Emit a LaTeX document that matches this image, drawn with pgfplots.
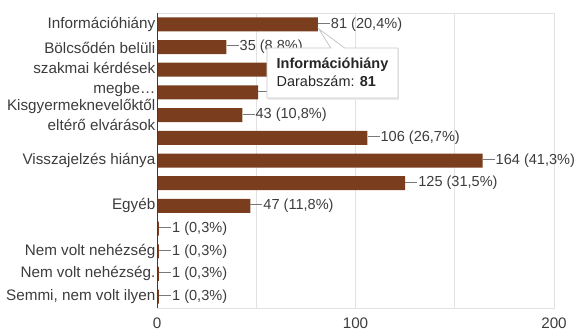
\documentclass[border=0pt]{standalone}
\usepackage{fontspec}
\setmainfont{Liberation Sans}
\usepackage{pgfplots}
\pgfplotsset{compat=1.18}
\definecolor{barbrown}{RGB}{122,62,30}
\definecolor{txt}{RGB}{60,60,60}
\definecolor{gridc}{RGB}{226,226,226}
\definecolor{connc}{RGB}{120,120,120}
\begin{document}
\begin{tikzpicture}[x=1bp,y=1bp]
\path[use as bounding box] (0,0) rectangle (576,328);
\begin{axis}[
  at={(157bp,20bp)}, anchor=south west,
  scale only axis, width=397bp, height=295bp,
  xbar, bar width=14bp,
  xmin=0, xmax=200, ymin=-0.5, ymax=12.5, y dir=reverse,
  clip=false,
  ytick={0,...,12},
  yticklabels={Információhiány,,{Bölcsődén belüli\\szakmai kérdések\\megbe…},,{Kisgyermeknevelőktől\\eltérő elvárások},,Visszajelzés hiánya,,Egyéb,,Nem volt nehézség,Nem volt nehézség.,{Semmi, nem volt ilyen}},
  yticklabel style={align=right, font=\fontsize{15.3}{20}\selectfont, text=txt, inner sep=1.5bp},
  xtick={0,50,100,150,200}, xticklabels={0,,100,,200},
  xticklabel style={font=\fontsize{15.3}{16}\selectfont, text=txt, yshift=-6bp},
  major tick length=0pt,
  xmajorgrids, grid style={gridc, line width=0.8bp},
  axis line style={gridc, line width=0.8bp},
  point meta=explicit symbolic,
  nodes near coords={\textcolor{connc}{\rule[0.6ex]{12bp}{0.7bp}}\kern1bp\pgfplotspointmeta},
  nodes near coords style={anchor=west, inner sep=0pt, font=\fontsize{14.6}{16}\selectfont, text=txt},
]
\addplot[fill=barbrown, draw=none] coordinates {
  (81,0) [81 (20,4\%)]
  (35,1) [35 (8,8\%)]
  (60,2) [60 (15,1\%)]
  (51,3) [51 (12,8\%)]
  (43,4) [43 (10,8\%)]
  (106,5) [106 (26,7\%)]
  (164,6) [164 (41,3\%)]
  (125,7) [125 (31,5\%)]
  (47,8) [47 (11,8\%)]
  (1,9) [1 (0,3\%)]
  (1,10) [1 (0,3\%)]
  (1,11) [1 (0,3\%)]
  (1,12) [1 (0,3\%)]
};
\draw[txt, line width=0.9bp] (axis cs:0,-0.5) -- (axis cs:0,12.5);
\coordinate (tA) at (axis cs:55.4,1.04);
\coordinate (tB) at (axis cs:87.5,1.04);
\coordinate (tT) at (axis cs:81.5,0.2);
\coordinate (tC) at (axis cs:94.5,1.04);
\coordinate (tD) at (axis cs:121.4,1.04);
\coordinate (tE) at (axis cs:121.4,3.25);
\coordinate (tF) at (axis cs:55.4,3.25);
\coordinate (tX) at (axis cs:60.2,1.45);
\end{axis}
% tooltip on top of everything
\path[fill=black!8] ([shift={(1.5bp,-1.5bp)}]tA) rectangle ([shift={(1.5bp,-1.5bp)}]tE);
\path[fill=white, draw=black!22, line width=0.8bp]
  (tA) -- (tB) -- (tT) -- (tC) -- (tD) -- (tE) -- (tF) -- cycle;
\node[anchor=north west, align=left, inner sep=0pt, text=black!85, font=\fontsize{14.5}{19}\selectfont]
  at (tX) {\textbf{Információhiány}\\Darabszám: \textbf{81}};
\end{tikzpicture}
\end{document}
